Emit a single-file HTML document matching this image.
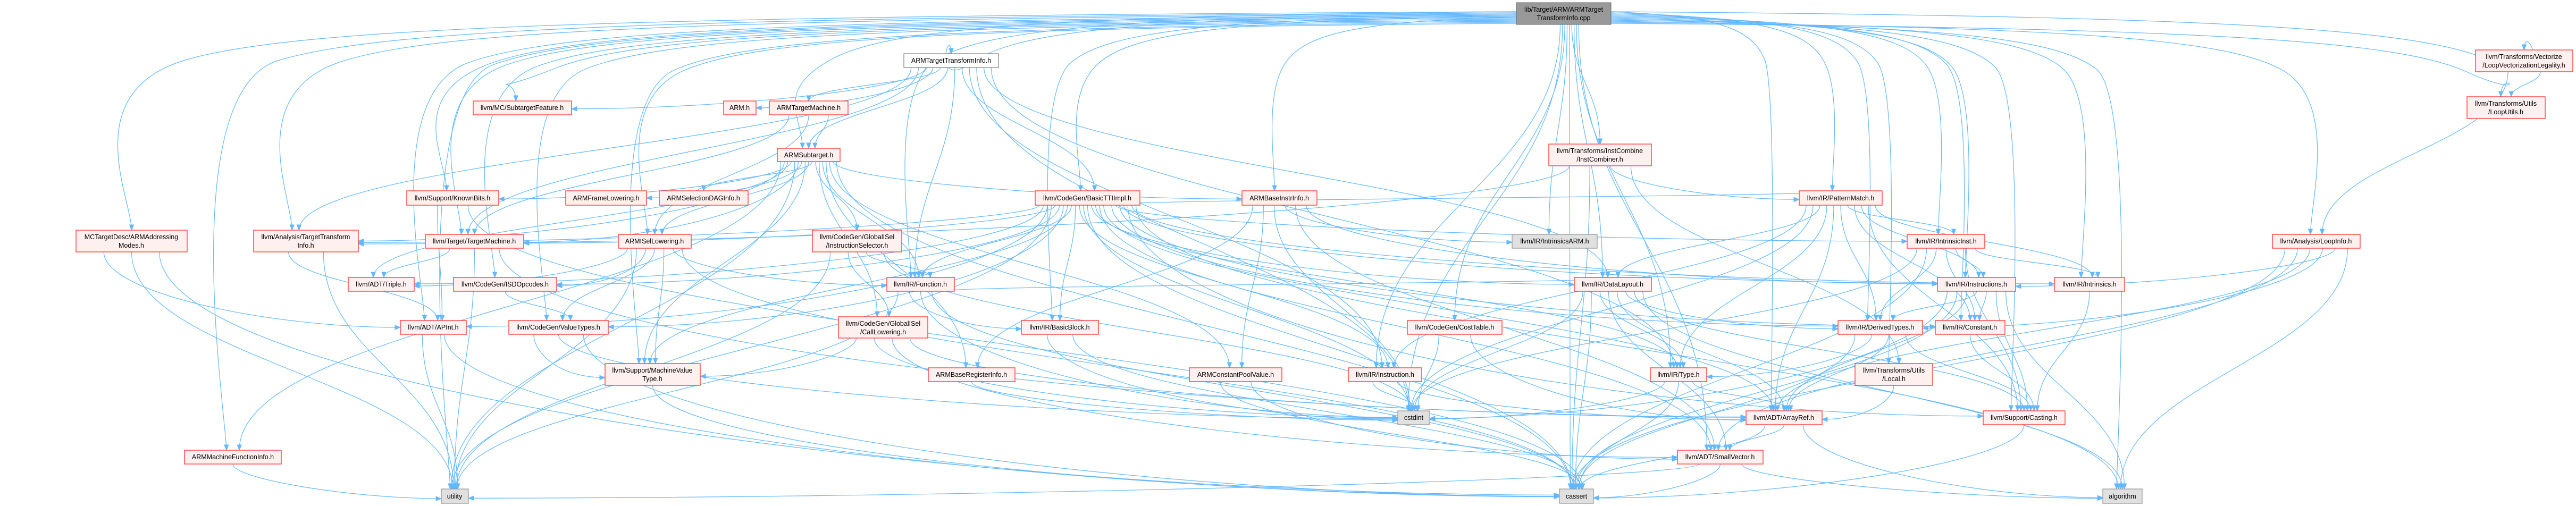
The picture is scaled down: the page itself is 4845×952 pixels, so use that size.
<!DOCTYPE html>
<html><head><meta charset="utf-8">
<style>
html,body{margin:0;padding:0;background:#fff;}
svg{display:block;}
text{font-family:"Liberation Sans",sans-serif;font-size:12.5px;fill:#000;}
</style></head>
<body>
<svg id="g" width="4845" height="952" viewBox="0 0 4845 952" xmlns="http://www.w3.org/2000/svg">
<g id="edges" fill="none" stroke="#63b8ff" stroke-width="1.2"></g>
<g id="arrows" fill="#63b8ff" stroke="#63b8ff" stroke-width="1"></g>
<g id="nodes">
<rect x="2852" y="5" width="178" height="41" fill="#999999" stroke="#666666"/>
<text x="2941" y="22" text-anchor="middle">lib/Target/ARM/ARMTarget</text>
<text x="2941" y="38" text-anchor="middle">TransformInfo.cpp</text>

<rect x="1700" y="101" width="178" height="26" fill="#ffffff" stroke="#666666"/>
<text x="1789" y="118" text-anchor="middle">ARMTargetTransformInfo.h</text>

<g fill="#fff0f0" stroke="#ff3030" stroke-width="1.3">
<rect x="890" y="190" width="185" height="26"/>
<rect x="1361" y="190" width="61" height="26"/>
<rect x="1447" y="190" width="148" height="26"/>
<rect x="2913" y="271" width="193" height="41"/>
<rect x="4656" y="94" width="183" height="41"/>
<rect x="4640" y="182" width="147" height="41"/>
<rect x="1462" y="279" width="118" height="25"/>
<rect x="765" y="359" width="173" height="27"/>
<rect x="1064" y="359" width="152" height="27"/>
<rect x="1240" y="359" width="167" height="27"/>
<rect x="1947" y="359" width="197" height="27"/>
<rect x="2336" y="359" width="141" height="27"/>
<rect x="3384" y="359" width="156" height="27"/>
<rect x="143" y="433" width="209" height="41"/>
<rect x="477" y="433" width="197" height="41"/>
<rect x="800" y="441" width="185" height="26"/>
<rect x="1163" y="441" width="137" height="26"/>
<rect x="1528" y="433" width="168" height="41"/>
<rect x="3587" y="441" width="146" height="26"/>
<rect x="4274" y="441" width="165" height="26"/>
<rect x="655" y="522" width="124" height="26"/>
<rect x="853" y="522" width="194" height="26"/>
<rect x="1668" y="522" width="127" height="26"/>
<rect x="2961" y="522" width="145" height="26"/>
<rect x="3644" y="522" width="147" height="26"/>
<rect x="3864" y="522" width="132" height="26"/>
<rect x="1577" y="596" width="168" height="40"/>
<rect x="753" y="603" width="124" height="26"/>
<rect x="957" y="603" width="187" height="26"/>
<rect x="1921" y="603" width="145" height="26"/>
<rect x="2647" y="603" width="178" height="26"/>
<rect x="3457" y="603" width="159" height="26"/>
<rect x="3640" y="603" width="131" height="26"/>
<rect x="1138" y="684" width="179" height="41"/>
<rect x="1746" y="692" width="163" height="26"/>
<rect x="2237" y="692" width="174" height="26"/>
<rect x="2536" y="692" width="138" height="26"/>
<rect x="3104" y="692" width="106" height="26"/>
<rect x="3489" y="684" width="146" height="41"/>
<rect x="3284" y="773" width="143" height="26"/>
<rect x="3730" y="773" width="154" height="26"/>
<rect x="347" y="847" width="182" height="26"/>
<rect x="3155" y="847" width="161" height="26"/>
</g>
<g fill="#e0e0e0" stroke="#999999" stroke-width="1.3">
<rect x="2844" y="441" width="160" height="26"/>
<rect x="2629" y="773" width="60" height="26"/>
<rect x="830" y="920" width="51" height="27"/>
<rect x="2933" y="920" width="64" height="27"/>
<rect x="3955" y="920" width="74" height="27"/>
</g>
<g text-anchor="middle">
<text x="982" y="207">llvm/MC/SubtargetFeature.h</text>
<text x="1391" y="207">ARM.h</text>
<text x="1521" y="207">ARMTargetMachine.h</text>
<text x="3009" y="288">llvm/Transforms/InstCombine</text>
<text x="3009" y="304">/InstCombiner.h</text>
<text x="4747" y="111">llvm/Transforms/Vectorize</text>
<text x="4747" y="127">/LoopVectorizationLegality.h</text>
<text x="4713" y="199">llvm/Transforms/Utils</text>
<text x="4713" y="215">/LoopUtils.h</text>
<text x="1521" y="296">ARMSubtarget.h</text>
<text x="851" y="377">llvm/Support/KnownBits.h</text>
<text x="1140" y="377">ARMFrameLowering.h</text>
<text x="1323" y="377">ARMSelectionDAGInfo.h</text>
<text x="2045" y="377">llvm/CodeGen/BasicTTIImpl.h</text>
<text x="2406" y="377">ARMBaseInstrInfo.h</text>
<text x="3462" y="377">llvm/IR/PatternMatch.h</text>
<text x="247" y="450">MCTargetDesc/ARMAddressing</text>
<text x="247" y="466">Modes.h</text>
<text x="575" y="450">llvm/Analysis/TargetTransform</text>
<text x="575" y="466">Info.h</text>
<text x="892" y="458">llvm/Target/TargetMachine.h</text>
<text x="1231" y="458">ARMISelLowering.h</text>
<text x="1612" y="450">llvm/CodeGen/GlobalISel</text>
<text x="1612" y="466">/InstructionSelector.h</text>
<text x="2924" y="458">llvm/IR/IntrinsicsARM.h</text>
<text x="3660" y="458">llvm/IR/IntrinsicInst.h</text>
<text x="4356" y="458">llvm/Analysis/LoopInfo.h</text>
<text x="717" y="539">llvm/ADT/Triple.h</text>
<text x="950" y="539">llvm/CodeGen/ISDOpcodes.h</text>
<text x="1731" y="539">llvm/IR/Function.h</text>
<text x="3033" y="539">llvm/IR/DataLayout.h</text>
<text x="3717" y="539">llvm/IR/Instructions.h</text>
<text x="3930" y="539">llvm/IR/Intrinsics.h</text>
<text x="1661" y="613">llvm/CodeGen/GlobalISel</text>
<text x="1661" y="629">/CallLowering.h</text>
<text x="815" y="620">llvm/ADT/APInt.h</text>
<text x="1050" y="620">llvm/CodeGen/ValueTypes.h</text>
<text x="1993" y="620">llvm/IR/BasicBlock.h</text>
<text x="2736" y="620">llvm/CodeGen/CostTable.h</text>
<text x="3536" y="620">llvm/IR/DerivedTypes.h</text>
<text x="3705" y="620">llvm/IR/Constant.h</text>
<text x="1227" y="701">llvm/Support/MachineValue</text>
<text x="1227" y="717">Type.h</text>
<text x="1827" y="709">ARMBaseRegisterInfo.h</text>
<text x="2324" y="709">ARMConstantPoolValue.h</text>
<text x="2605" y="709">llvm/IR/Instruction.h</text>
<text x="3157" y="709">llvm/IR/Type.h</text>
<text x="3562" y="701">llvm/Transforms/Utils</text>
<text x="3562" y="717">/Local.h</text>
<text x="2659" y="790">cstdint</text>
<text x="3355" y="790">llvm/ADT/ArrayRef.h</text>
<text x="3807" y="790">llvm/Support/Casting.h</text>
<text x="438" y="864">ARMMachineFunctionInfo.h</text>
<text x="3235" y="864">llvm/ADT/SmallVector.h</text>
<text x="855" y="938">utility</text>
<text x="2965" y="938">cassert</text>
<text x="3992" y="938">algorithm</text>
</g>
</g>
</svg>
<script>
var N={
root:[2852,5,3030,46],attih:[1700,101,1878,127],subf:[890,190,1075,216],armh:[1361,190,1422,216],atm:[1447,190,1595,216],
icomb:[2913,271,3106,312],lvl:[4656,94,4839,135],lu:[4640,182,4787,223],sub:[1462,279,1580,304],kb:[765,359,938,386],
afl:[1064,359,1216,386],asdi:[1240,359,1407,386],bti:[1947,359,2144,386],abii:[2336,359,2477,386],pm:[3384,359,3540,386],
amod:[143,433,352,474],tti:[477,433,674,474],tm:[800,441,985,467],isel:[1163,441,1300,467],is:[1528,433,1696,474],
iarm:[2844,441,3004,467],iinst:[3587,441,3733,467],li:[4274,441,4439,467],triple:[655,522,779,548],isd:[853,522,1047,548],
fn:[1668,522,1795,548],dl:[2961,522,3106,548],insts:[3644,522,3791,548],intr:[3864,522,3996,548],cl:[1577,596,1745,636],
apint:[753,603,877,629],vt:[957,603,1144,629],bb:[1921,603,2066,629],ct:[2647,603,2825,629],dt:[3457,603,3616,629],
cnst:[3640,603,3771,629],mvt:[1138,684,1317,725],abri:[1746,692,1909,718],acpv:[2237,692,2411,718],inst:[2536,692,2674,718],
type:[3104,692,3210,718],local:[3489,684,3635,725],cstdint:[2629,773,2689,799],aref:[3284,773,3427,799],cast:[3730,773,3884,799],
amfi:[347,847,529,873],sv:[3155,847,3316,873],utility:[830,920,881,947],cassert:[2933,920,2997,947],algorithm:[3955,920,4029,947]};
var E=[
['root','attih'],['root','subf'],['root','kb'],['root','amod'],['root','tti'],['root','tm'],['root','sub'],['root','icomb'],
['root','lvl'],['root','lu'],['root','li'],['root','pm'],['root','iinst'],['root','insts'],['root','intr'],['root','iarm'],
['root','dl'],['root','ct'],['root','type'],['root','dt'],['root','local'],['root','cstdint'],['root','cassert'],['root','algorithm'],
['root','aref'],['root','sv'],['root','cast'],['root','utility'],['root','mvt'],['root','apint'],['root','isd'],['root','vt'],
['root','fn'],['root','bb'],['root','bti'],['root','abii'],['root','isel'],['root','inst'],['root','amfi'],['root','cnst'],
['attih','armh'],['attih','atm'],['attih','sub'],['attih','bti'],['attih','subf'],['attih','fn'],['attih','tti'],['attih','tm'],
['attih','dl'],['attih','type'],['attih','cstdint'],['attih','inst'],
['atm','sub'],['atm','tm'],['atm','isel'],
['sub','kb'],['sub','afl'],['sub','asdi'],['sub','isel'],['sub','abii'],['sub','is'],['sub','cl'],['sub','tm'],['sub','tti'],
['sub','triple'],['sub','amfi'],['sub','abri'],['sub','acpv'],['sub','fn'],['sub','utility'],['sub','cassert'],['sub','mvt'],
['bti','apint'],['bti','vt'],['bti','isd'],['bti','mvt'],['bti','tti'],['bti','tm'],['bti','fn'],['bti','bb'],['bti','dl'],
['bti','insts'],['bti','intr'],['bti','dt'],['bti','cnst'],['bti','inst'],['bti','type'],['bti','cast'],['bti','sv'],['bti','aref'],
['bti','cassert'],['bti','cstdint'],['bti','utility'],['bti','algorithm'],['bti','triple'],['bti','iinst'],['bti','pm'],
['abii','abri'],['abii','acpv'],['abii','insts'],['abii','iarm'],['abii','cstdint'],['abii','sv'],
['pm','insts'],['pm','iinst'],['pm','intr'],['pm','dt'],['pm','cnst'],['pm','inst'],['pm','type'],['pm','dl'],['pm','cast'],['pm','cstdint'],['pm','aref'],
['icomb','pm'],['icomb','local'],['icomb','cassert'],['icomb','tti'],
['iinst','insts'],['iinst','intr'],['iinst','dt'],['iinst','cnst'],['iinst','cast'],['iinst','cassert'],['iinst','cstdint'],
['li','insts'],['li','dt'],['li','algorithm'],['li','sv'],['li','aref'],['li','cassert'],
['lvl','lu'],['lvl','li'],
['amod','apint'],['amod','utility'],['amod','cassert'],
['tti','utility'],['tti','apint'],['tm','triple'],['tm','utility'],['tm','aref'],
['isel','isd'],['isel','vt'],['isel','mvt'],['isel','fn'],['isel','triple'],['isel','cassert'],['isel','utility'],
['is','fn'],['is','cl'],['is','cstdint'],['is','utility'],
['fn','bb'],['fn','dl'],['fn','utility'],['fn','cstdint'],['fn','cassert'],
['cl','mvt'],['cl','sv'],['cl','aref'],['cl','cstdint'],
['dl','type'],['dl','aref'],['dl','sv'],['dl','cassert'],['dl','cstdint'],['dl','dt'],['dl','cast'],['dl','algorithm'],
['insts','cnst'],['insts','cast'],['insts','dt'],['insts','cassert'],['insts','cstdint'],['insts','aref'],['insts','algorithm'],
['apint','utility'],['apint','cassert'],['vt','mvt'],['vt','cassert'],['vt','cstdint'],['isd','vt'],['mvt','cassert'],
['dt','type'],['dt','aref'],['dt','cast'],['dt','cassert'],['cnst','cast'],['type','aref'],['type','cstdint'],['type','cassert'],
['local','aref'],['aref','sv'],['aref','cassert'],['aref','algorithm'],['sv','cassert'],['sv','algorithm'],['sv','utility'],
['cast','cassert'],['inst','cstdint'],['inst','aref'],['amfi','utility'],['ct','cstdint'],['ct','aref'],['intr','cast'],
['bb','cstdint'],['bb','cassert'],['abri','cstdint'],['acpv','sv'],['acpv','cassert'],['kb','apint'],['kb','cassert']];
var ge=document.getElementById('edges'),ga=document.getElementById('arrows'),ns='http://www.w3.org/2000/svg';
var outCount={},inCount={},outIdx={},inIdx={},sideCount={L:0,R:0};
E.forEach(function(e){outCount[e[0]]=(outCount[e[0]]||0)+1;inCount[e[1]]=(inCount[e[1]]||0)+1;});
E.sort(function(a,b){var A=N[a[1]],B=N[b[1]];return (A[0]+A[2])-(B[0]+B[2]);});
E.forEach(function(e){
 var s=N[e[0]],t=N[e[1]];
 var oi=outIdx[e[0]]=(outIdx[e[0]]||0)+1, ii=inIdx[e[1]]=(inIdx[e[1]]||0)+1;
 var sw=s[2]-s[0], tw=t[2]-t[0];
 var sx=s[0]+sw*(oi/(outCount[e[0]]+1)), sy=s[3];
 var tx, ty, c1x, c1y, c2x, c2y;
 var tcx=(t[0]+t[2])/2;
 var d;
 if(e[0]=='root' && Math.abs(tcx-(s[0]+s[2])/2)>350){
   var left=tcx<s[0];
   var k=left?(sideCount.L++):(sideCount.R++);
   sx=left?s[0]:s[2]; sy=22+(k%12)*2;
   tx=t[0]+tw*(0.3+0.4*(ii/(inCount[e[1]]+1))); ty=t[1];
   var bend=tx+(sx-tx)*0.12;
   d='M'+sx+','+sy+' C'+(tx+(sx-tx)*0.35)+','+(sy+8)+' '+bend+','+(sy+30)+' '+(tx+(sx-tx)*0.04)+','+(sy+90)+' S'+tx+','+(ty-60)+' '+tx+','+ty;
   c2x=tx; c2y=ty-60;
 } else {
 var dy=t[1]-sy;
 var dx=Math.abs(tcx-sx);
 var sideIn = dx>4*Math.max(dy,1) && dy>0;
 c1x=sx;
 if(sideIn){
   ty=t[1]+(t[3]-t[1])*(0.3+0.4*(ii/(inCount[e[1]]+1)));
   if(tcx>sx){tx=t[0];c2x=tx-dx*0.4;}else{tx=t[2];c2x=tx+dx*0.4;}
   c2y=ty; c1y=sy+Math.max(dy*0.6,20);
 }else{
   tx=t[0]+tw*(0.3+0.4*(ii/(inCount[e[1]]+1))); ty=t[1];
   c1y=sy+dy*0.45; c2x=tx; c2y=ty-dy*0.45;
 }
 d='M'+sx+','+sy+' C'+c1x+','+c1y+' '+c2x+','+c2y+' '+tx+','+ty;
 }
 var p=document.createElementNS(ns,'path');
 p.setAttribute('d',d);
 ge.appendChild(p);
 var ang=Math.atan2(ty-c2y,tx-c2x); if(c2x==tx&&c2y==ty)ang=Math.PI/2;
 var L=10,W=4;
 var bx=tx-L*Math.cos(ang),by=ty-L*Math.sin(ang);
 var px=-Math.sin(ang)*W,py=Math.cos(ang)*W;
 var a=document.createElementNS(ns,'polygon');
 a.setAttribute('points',tx+','+ty+' '+(bx+px)+','+(by+py)+' '+(bx-px)+','+(by-py));
 ga.appendChild(a);
});
</script>
</body></html>
